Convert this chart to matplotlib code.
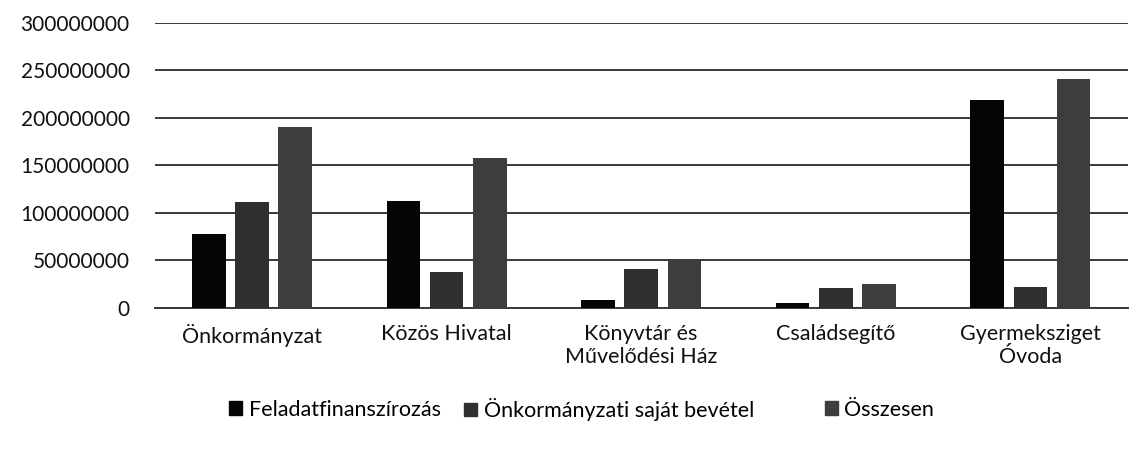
import numpy as np
import matplotlib
matplotlib.use('Agg')
import matplotlib.pyplot as plt
from matplotlib.patches import Patch

categories = ['Önkormányzat', 'Közös Hivatal', 'Könyvtár és\nMűvelődési Ház',
              'Családsegítő', 'Gyermeksziget\nÓvoda']
series_names = ['Feladatfinanszírozás', 'Önkormányzati saját bevétel', 'Összesen']
feladat = [78000000, 112000000, 8000000, 5000000, 219000000]
sajat = [111000000, 37500000, 41000000, 21000000, 22000000]
osszesen = [190000000, 158000000, 50000000, 25000000, 241000000]
y_ticks = [0, 50000000, 100000000, 150000000, 200000000, 250000000, 300000000]

colors = ['#050505', '#2f2f2f', '#3d3d3d']

plt.rcParams['font.family'] = ['Lato', 'DejaVu Sans']

fig = plt.figure(figsize=(11.46, 4.5), dpi=100)
ax = fig.add_axes([0.135, 0.316, 0.849, 0.633])

x = np.arange(len(categories))
step = 0.222
width = 0.172
for i, vals in enumerate([feladat, sajat, osszesen]):
    ax.bar(x + (i - 1) * step, vals, width, color=colors[i], zorder=3)

ax.set_xlim(-0.5, len(categories) - 0.5)
ax.set_ylim(0, 300000000)
ax.set_yticks(y_ticks)
ax.set_yticklabels([str(v) for v in y_ticks], fontsize=15, color='#111111')
ax.set_xticks(x)
ax.set_xticklabels(categories, fontsize=15.5, color='#111111', linespacing=1.15)
ax.tick_params(axis='y', length=0, pad=18)
ax.tick_params(axis='x', length=0, pad=12)
ax.yaxis.grid(True, color='#3a3a3a', linewidth=1.4, zorder=0)
for s in ['top', 'right', 'left']:
    ax.spines[s].set_visible(False)
ax.spines['bottom'].set_color('#3a3a3a')
ax.spines['bottom'].set_linewidth(1.4)

# legend entries spaced like the original
legend_x = [0.200, 0.405, 0.720]
for name, col, lx in zip(series_names, colors, legend_x):
    fig.legend(handles=[Patch(color=col, label=name)], loc='center left',
               bbox_to_anchor=(lx, 0.09), frameon=False, fontsize=15.5,
               handlelength=0.6, handleheight=0.6, handletextpad=0.3,
               borderaxespad=0, borderpad=0)

fig.savefig('out.png', dpi=100)
